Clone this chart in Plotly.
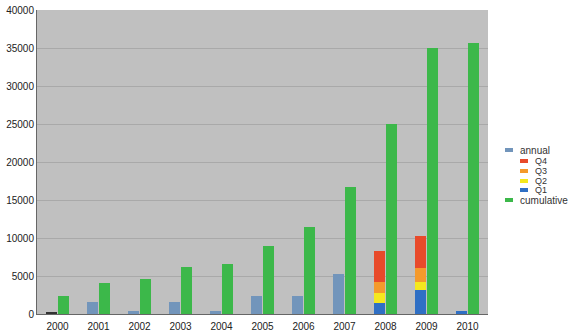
import plotly.graph_objects as go

years = ["2000", "2001", "2002", "2003", "2004", "2005", "2006", "2007", "2008", "2009", "2010"]
annual = [None, 1600, 450, 1600, 400, 2400, 2400, 5300, None, None, None]
annual_2000 = [150, None, None, None, None, None, None, None, None, None, None]
q1 = [None, None, None, None, None, None, None, None, 1500, 3150, 450]
q2 = [None, None, None, None, None, None, None, None, 1300, 1100, None]
q3 = [None, None, None, None, None, None, None, None, 1450, 1850, None]
q4 = [None, None, None, None, None, None, None, None, 4100, 4100, None]
cumulative = [2400, 4100, 4600, 6200, 6600, 9000, 11400, 16700, 25000, 35000, 35600]

C_ANNUAL = "#7295bb"
C_Q1 = "#2f6fc4"
C_Q2 = "#f5e81e"
C_Q3 = "#f49a2c"
C_Q4 = "#e84a2a"
C_CUM = "#3cb84a"

W, H = 568, 333
ML, MR, MT, MB = 37, 80, 10, 19
PW, PH = W - ML - MR, H - MT - MB

fig = go.Figure()
series = [
    ("annual", annual_2000, "#333333", "a"),
    ("annual", annual, C_ANNUAL, "a"),
    ("Q1", q1, C_Q1, "a"),
    ("Q2", q2, C_Q2, "a"),
    ("Q3", q3, C_Q3, "a"),
    ("Q4", q4, C_Q4, "a"),
    ("cumulative", cumulative, C_CUM, "c"),
]
for name, vals, col, grp in series:
    fig.add_trace(go.Bar(x=years, y=vals, name=name, offsetgroup=grp, showlegend=False,
                         marker=dict(color=col, line=dict(width=0))))

# custom legend (pixel positions converted to paper coordinates)
legend_items = [
    ("annual", C_ANNUAL, 505, 150, 10),
    ("Q4", C_Q4, 520, 161, 9),
    ("Q3", C_Q3, 520, 171, 9),
    ("Q2", C_Q2, 520, 181, 9),
    ("Q1", C_Q1, 520, 190, 9),
    ("cumulative", C_CUM, 505, 200, 10),
]
def px(x):
    return (x - ML) / PW
def py(y):
    return 1 - (y - MT) / PH
for label, col, x0, yc, fs in legend_items:
    fig.add_shape(type="rect", xref="paper", yref="paper",
                  x0=px(x0), x1=px(x0 + 8), y0=py(yc + 2), y1=py(yc - 2),
                  fillcolor=col, line=dict(width=0))
    fig.add_annotation(xref="paper", yref="paper", x=px(x0 + 13), y=py(yc),
                       xanchor="left", yanchor="middle", text=label, showarrow=False,
                       font=dict(size=fs, color="#333"))

fig.update_layout(
    width=W, height=H,
    margin=dict(l=ML, r=MR, t=MT, b=MB, autoexpand=False),
    barmode="stack",
    bargap=0.41, bargroupgap=0.1,
    plot_bgcolor="#c0c0c0",
    paper_bgcolor="white",
    font=dict(family="Liberation Sans, Arial, sans-serif", size=10, color="#222"),
    showlegend=False,
    xaxis=dict(showline=True, linecolor="#666", linewidth=1, ticks="", showgrid=False,
               ticklabelstandoff=3),
    yaxis=dict(range=[0, 40000], dtick=5000, showgrid=True, gridcolor="#a9a9a9",
               gridwidth=1, showline=True, linecolor="#666", linewidth=1, ticks="",
               zeroline=False, tickformat="d"),
)

fig.write_html("out.html")
